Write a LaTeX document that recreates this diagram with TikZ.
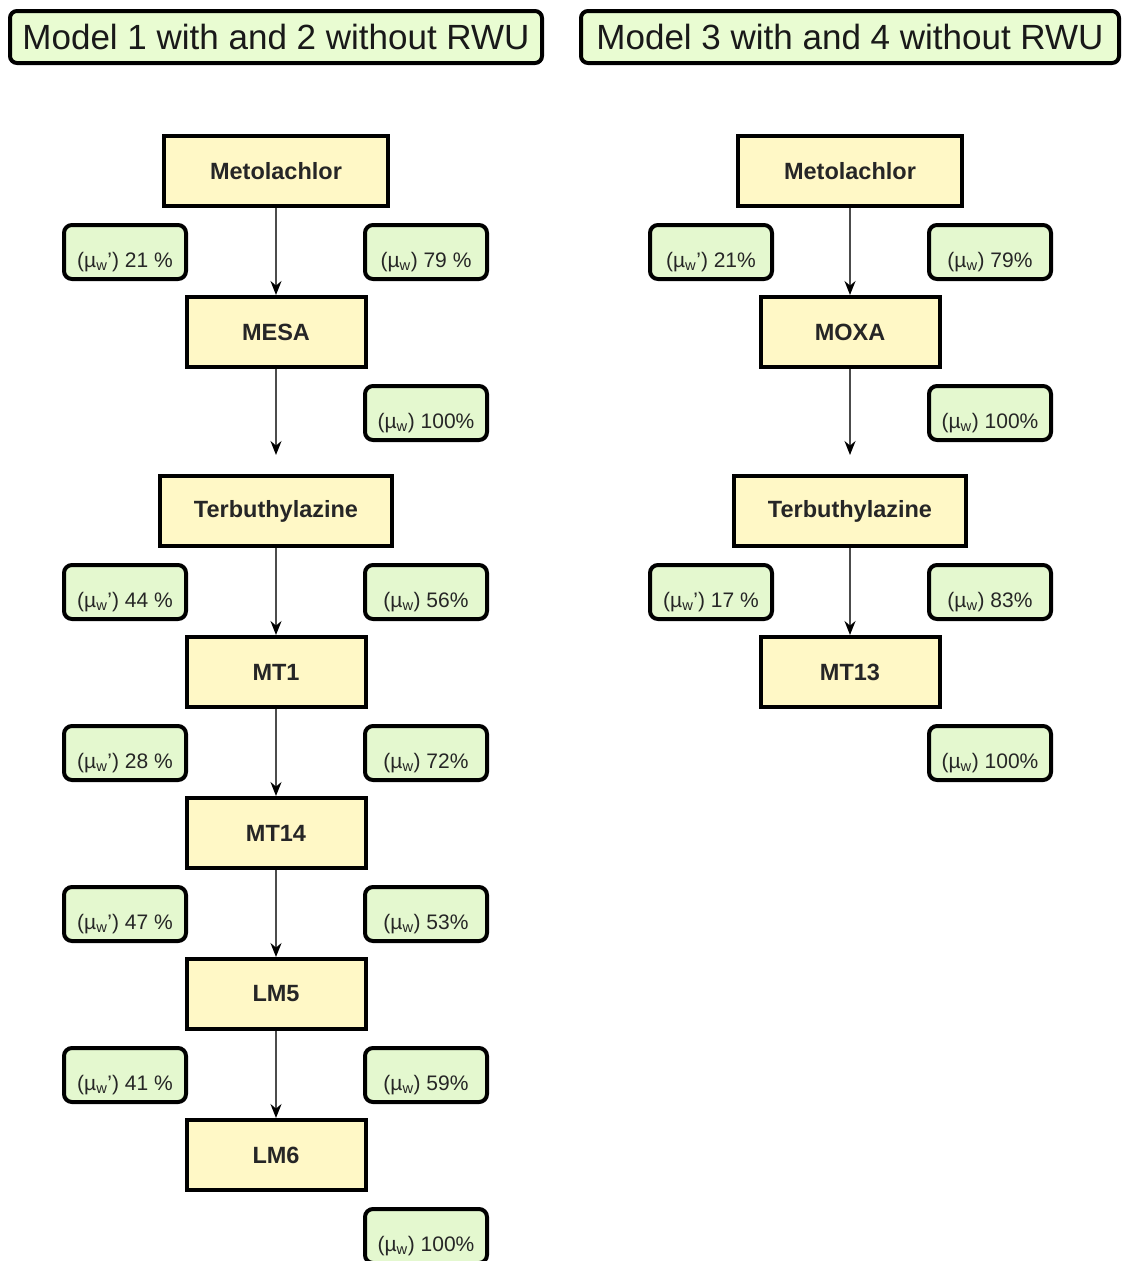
\documentclass[tikz,border=0pt]{standalone}
\usepackage{fontspec}
\setmainfont{Liberation Sans}
\usetikzlibrary{arrows.meta}
\definecolor{titlegreen}{HTML}{E9FCD2}
\definecolor{labelgreen}{HTML}{E4F8CF}
\definecolor{boxyellow}{HTML}{FFF8C6}
\tikzset{
  titlebox/.style={draw=black, fill=titlegreen, line width=4pt, rounded corners=7pt, minimum width=532pt, minimum height=52pt, font=\fontsize{35}{40}\selectfont, text=black!90, inner sep=0pt},
  compound/.style={draw=black, fill=boxyellow, line width=4pt, minimum height=70pt, font=\fontsize{23.5}{28}\selectfont\bfseries, text=black!85, inner sep=0pt},
  share/.style={draw=black, fill=labelgreen, line width=4pt, rounded corners=8pt, minimum width=122pt, minimum height=54pt, font=\fontsize{21}{24}\selectfont, text=black!85, inner sep=0pt, text height=32pt, text depth=2pt, yshift=5pt},
  flow/.style={draw=black!70, line width=1.6pt, -{Stealth[length=14pt, width=11pt, black]}}
}
\newcommand{\muw}{(µ\textsubscript{w})}
\newcommand{\muwp}{(µ\textsubscript{w}')}
\begin{document}
\begin{tikzpicture}[x=1pt, y=-1pt]
  \useasboundingbox (0,0) rectangle (1122,1261);
  % titles
  \node[titlebox] (title1) at (276,37) {Model 1 with and 2 without RWU};
  \node[titlebox, minimum width=538pt] (title2) at (850,37) {Model 3 with and 4 without RWU};
  % model 1 and 2
  \node[compound, minimum width=224pt] (meto1) at (276,171) {Metolachlor};
  \node[compound, minimum width=179pt] (mesa) at (276,332) {MESA};
  \coordinate (stop1) at (276,455);
  \node[compound, minimum width=232pt] (terb1) at (276,511) {Terbuthylazine};
  \node[compound, minimum width=179pt] (mt1) at (276,672) {MT1};
  \node[compound, minimum width=179pt] (mt14) at (276,833) {MT14};
  \node[compound, minimum width=179pt] (lm5) at (276,994) {LM5};
  \node[compound, minimum width=179pt] (lm6) at (276,1155) {LM6};
  \node[share] (a1) at (125,257) {\muwp{} 21 \%};
  \node[share] (b1) at (426,257) {\muw{} 79 \%};
  \node[share] (b2) at (426,418) {\muw{} 100\%};
  \node[share] (a3) at (125,597) {\muwp{} 44 \%};
  \node[share] (b3) at (426,597) {\muw{} 56\%};
  \node[share] (a4) at (125,758) {\muwp{} 28 \%};
  \node[share] (b4) at (426,758) {\muw{} 72\%};
  \node[share] (a5) at (125,919) {\muwp{} 47 \%};
  \node[share] (b5) at (426,919) {\muw{} 53\%};
  \node[share] (a6) at (125,1080) {\muwp{} 41 \%};
  \node[share] (b6) at (426,1080) {\muw{} 59\%};
  \node[share] (b7) at (426,1241) {\muw{} 100\%};
  \draw[flow] (meto1) -- (mesa);
  \draw[flow] (mesa) -- (stop1);
  \draw[flow] (terb1) -- (mt1);
  \draw[flow] (mt1) -- (mt14);
  \draw[flow] (mt14) -- (lm5);
  \draw[flow] (lm5) -- (lm6);
  % model 3 and 4
  \node[compound, minimum width=224pt] (meto2) at (850,171) {Metolachlor};
  \node[compound, minimum width=179pt] (moxa) at (850,332) {MOXA};
  \coordinate (stop2) at (850,455);
  \node[compound, minimum width=232pt] (terb2) at (850,511) {Terbuthylazine};
  \node[compound, minimum width=179pt] (mt13) at (850,672) {MT13};
  \node[share] (c1) at (711,257) {\muwp{} 21\%};
  \node[share] (d1) at (990,257) {\muw{} 79\%};
  \node[share] (d2) at (990,418) {\muw{} 100\%};
  \node[share] (c3) at (711,597) {\muwp{} 17 \%};
  \node[share] (d3) at (990,597) {\muw{} 83\%};
  \node[share] (d4) at (990,758) {\muw{} 100\%};
  \draw[flow] (meto2) -- (moxa);
  \draw[flow] (moxa) -- (stop2);
  \draw[flow] (terb2) -- (mt13);
\end{tikzpicture}
\end{document}
